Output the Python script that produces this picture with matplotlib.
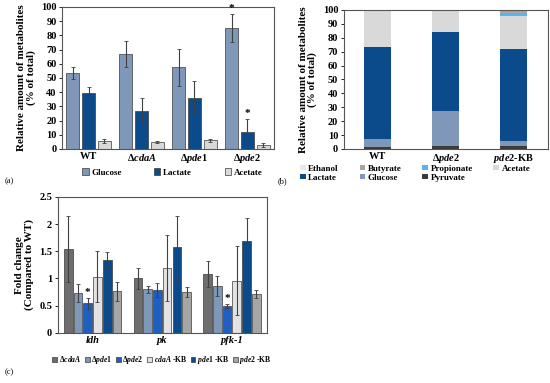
import numpy as np
import matplotlib.pyplot as plt

plt.rcParams['font.family'] = ['Liberation Serif', 'DejaVu Serif']
plt.rcParams['font.weight'] = 'bold'
plt.rcParams['mathtext.fontset'] = 'custom'
plt.rcParams['mathtext.rm'] = 'Liberation Serif:bold'
plt.rcParams['mathtext.it'] = 'Liberation Serif:italic:bold'
plt.rcParams['mathtext.bf'] = 'Liberation Serif:bold'

# (a) metabolite amounts
strains_a = ['WT', r'$\Delta\mathit{cdaA}$', r'$\Delta\mathit{pde1}$', r'$\Delta\mathit{pde2}$']
glucose = [53.5, 67, 57.5, 85]
glucose_err = [4.5, 9, 13, 10]
lactate = [39.5, 27, 36, 12]
lactate_err = [4, 9, 12, 9]
acetate = [5.5, 5, 6, 3]
acetate_err = [1.5, 0.7, 1.3, 1.3]

# (b) stacked composition
strains_b = ['WT', r'$\Delta\mathit{pde2}$', r'$\mathit{pde2}$-KB']
pyruvate_b = [1.5, 2, 2]
glucose_b = [5.5, 25, 4]
lactate_b = [66, 57, 66]
acetate_b = [26.5, 15.5, 24]
propionate_b = [0.3, 0, 2]
butyrate_b = [0.2, 0.5, 1.5]
ethanol_b = [0, 0, 0.5]

# (c) gene expression fold change
genes = ['ldh', 'pk', 'pfk-1']
series_c = [r'$\Delta\mathit{cdaA}$', r'$\Delta\mathit{pde1}$', r'$\Delta\mathit{pde2}$',
            r'$\mathit{cdaA}$ -KB', r'$\mathit{pde1}$ -KB', r'$\mathit{pde2}$ -KB']
fold = [[1.54, 1.00, 1.08],
        [0.73, 0.80, 0.86],
        [0.54, 0.78, 0.49],
        [1.03, 1.19, 0.96],
        [1.34, 1.57, 1.68],
        [0.76, 0.75, 0.71]]
fold_err = [[0.60, 0.19, 0.24],
            [0.17, 0.07, 0.19],
            [0.10, 0.13, 0.04],
            [0.47, 0.60, 0.63],
            [0.15, 0.57, 0.44],
            [0.17, 0.10, 0.07]]

c_gluc = '#7f98ba'
c_lac = '#0b4a8b'
c_ace = '#d9d9d9'
edge = '#3a3a3a'
ekw = dict(ecolor='#404040', elinewidth=0.8, capsize=1.5, capthick=0.6)


def style_box(ax):
    for s in ax.spines.values():
        s.set_color('#555555')
        s.set_linewidth(0.8)
    ax.tick_params(axis='both', labelsize=7.5, length=2, width=0.6, pad=2)
    ax.tick_params(axis='x', length=0)


fig = plt.figure(figsize=(5.5, 3.83), dpi=100)

# ----- (a)
ax1 = fig.add_axes([0.113, 0.611, 0.385, 0.371])
x = np.arange(len(strains_a))
w = 0.25
ax1.bar(x - 0.3, glucose, w, yerr=glucose_err, color=c_gluc, edgecolor=edge, lw=0.5, error_kw=ekw, label='Glucose')
ax1.bar(x, lactate, w, yerr=lactate_err, color=c_lac, edgecolor=edge, lw=0.5, error_kw=ekw, label='Lactate')
ax1.bar(x + 0.3, acetate, w, yerr=acetate_err, color=c_ace, edgecolor=edge, lw=0.5, error_kw=ekw, label='Acetate')
ax1.text(3 - 0.3, glucose[3] + glucose_err[3] + 0.5, '*', ha='center', va='bottom', fontsize=8)
ax1.text(3, lactate[3] + lactate_err[3] + 0.5, '*', ha='center', va='bottom', fontsize=8)
ax1.set_xlim(-0.5, 3.5)
ax1.set_ylim(0, 100)
ax1.set_yticks(range(0, 101, 10))
ax1.set_xticks(x)
ax1.set_xticklabels(strains_a)
ax1.set_ylabel('Relative amount of metabolites\n(% of total)', fontsize=8, fontweight='bold', linespacing=1.0)
style_box(ax1)
ax1.legend(loc='center', bbox_to_anchor=(0.52, -0.165), ncol=3, frameon=False, fontsize=6.5,
           handlelength=0.7, handleheight=0.7, columnspacing=3.6, handletextpad=0.3)

# ----- (b)
ax2 = fig.add_axes([0.625, 0.611, 0.371, 0.363])
xb = np.arange(len(strains_b))
wb = 0.4
stack = [('Pyruvate', pyruvate_b, '#3b3b3b'),
         ('Glucose', glucose_b, c_gluc),
         ('Lactate', lactate_b, c_lac),
         ('Acetate', acetate_b, '#d9d9d9'),
         ('Propionate', propionate_b, '#56b4f0'),
         ('Butyrate', butyrate_b, '#a6a6a6'),
         ('Ethanol', ethanol_b, '#e8e8e8')]
bottom = np.zeros(len(strains_b))
handles = {}
for name, vals, col in stack:
    handles[name] = ax2.bar(xb, vals, wb, bottom=bottom, color=col, label=name)
    bottom += np.array(vals)
ax2.set_xlim(-0.5, 2.5)
ax2.set_ylim(0, 100)
ax2.set_yticks(range(0, 101, 10))
ax2.set_xticks(xb)
ax2.set_xticklabels(strains_b)
ax2.set_ylabel('Relative amount of metabolites\n(% of total)', fontsize=8, fontweight='bold', linespacing=1.0)
style_box(ax2)
# legend filled column by column -> rows read Ethanol Butyrate Propionate Acetate / Lactate Glucose Pyruvate
order = ['Ethanol', 'Lactate', 'Butyrate', 'Glucose', 'Propionate', 'Pyruvate', 'Acetate']
fig.legend([handles[n] for n in order], order, loc='center', bbox_to_anchor=(0.755, 0.548), ncol=4,
           frameon=False, fontsize=6.5, handlelength=0.6, handleheight=0.6, columnspacing=2.3,
           handletextpad=0.3, labelspacing=0.1)

# ----- (c)
ax3 = fig.add_axes([0.105, 0.131, 0.38, 0.355])
cols_c = ['#6e6e6e', '#7f98ba', '#1f5fbf', '#e3e3e3', '#0b4a8b', '#a6a6a6']
xc = np.arange(len(genes))
wc = 0.125
step = 0.14
for i in range(len(series_c)):
    pos = xc + (i - 2.5) * step
    ax3.bar(pos, fold[i], wc, yerr=fold_err[i], color=cols_c[i], edgecolor=edge, lw=0.5,
            error_kw=ekw, label=series_c[i])
for j in [0, 2]:
    p = xc[j] + (2 - 2.5) * step
    ax3.text(p, fold[2][j] + fold_err[2][j] + 0.02, '*', ha='center', va='bottom', fontsize=8)
ax3.set_xlim(-0.5, 2.5)
ax3.set_ylim(0, 2.5)
ax3.set_yticks([0, 0.5, 1, 1.5, 2, 2.5])
ax3.set_yticklabels(['0', '0.5', '1', '1.5', '2', '2.5'])
ax3.set_xticks(xc)
ax3.set_xticklabels(genes, fontstyle='italic')
ax3.set_ylabel('Fold change\n(Compared to WT)', fontsize=8, fontweight='bold', linespacing=1.0)
style_box(ax3)
ax3.legend(loc='center', bbox_to_anchor=(0.5, -0.2), ncol=6, frameon=False, fontsize=5.5,
           handlelength=0.6, handleheight=0.6, columnspacing=0.5, handletextpad=0.2)

fig.text(0.009, 0.522, '(a)', fontsize=6, fontweight='normal')
fig.text(0.505, 0.522, '(b)', fontsize=6, fontweight='normal')
fig.text(0.009, 0.022, '(c)', fontsize=6, fontweight='normal')

fig.savefig('out.png', dpi=100)
